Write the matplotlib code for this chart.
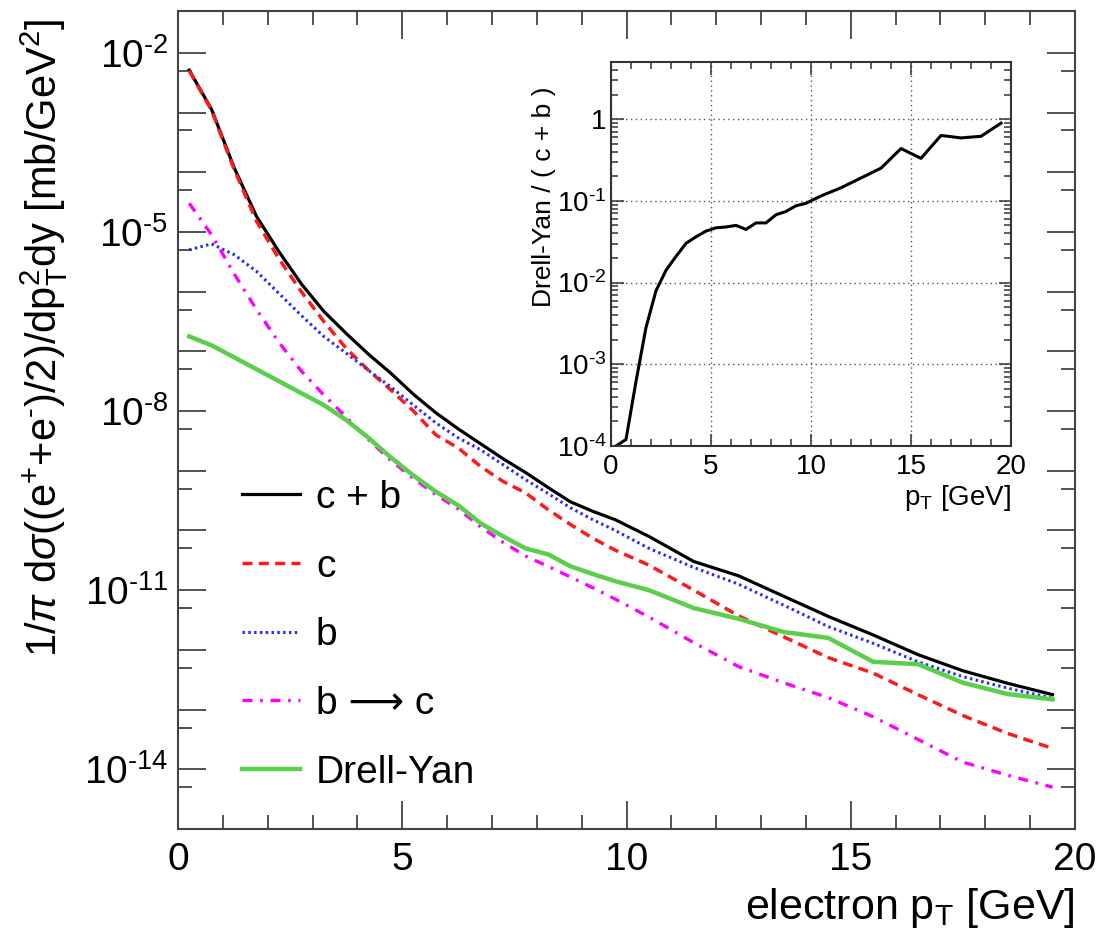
import numpy as np
import matplotlib
matplotlib.use("Agg")
import matplotlib.pyplot as plt
from matplotlib.ticker import LogLocator, FuncFormatter, MultipleLocator, NullFormatter

plt.rcParams['font.family'] = ['Liberation Sans', 'DejaVu Sans']
plt.rcParams['mathtext.fontset'] = 'custom'
plt.rcParams['mathtext.rm'] = 'Liberation Sans'
plt.rcParams['mathtext.it'] = 'Liberation Sans:italic'
plt.rcParams['mathtext.sf'] = 'Liberation Sans'

# electron pT bin centres [GeV]
pt = [0.25, 0.75, 1.25, 1.75, 2.25, 2.75, 3.25, 3.75, 4.25, 4.75,
      5.25, 5.75, 6.25, 6.75, 7.25, 7.75, 8.25, 8.75, 9.25, 9.75,
      10.5, 11.5, 12.5, 13.5, 14.5, 15.5, 16.5, 17.5, 18.5, 19.5]

# log10 of cross sections
log_cb = [-2.29, -2.95, -3.92, -4.74, -5.33, -5.87, -6.33, -6.70, -7.05, -7.37,
          -7.72, -8.03, -8.30, -8.55, -8.80, -9.03, -9.28, -9.52, -9.68, -9.82,
          -10.10, -10.52, -10.76, -11.10, -11.44, -11.75, -12.08, -12.35, -12.56, -12.75]
log_c = [-2.30, -2.97, -3.95, -4.82, -5.45, -6.00, -6.50, -6.95, -7.32, -7.65,
         -8.00, -8.40, -8.62, -8.93, -9.18, -9.37, -9.65, -9.90, -10.13, -10.33,
         -10.58, -11.00, -11.43, -11.78, -12.13, -12.39, -12.75, -13.10, -13.40, -13.65]
log_b = [-5.30, -5.20, -5.38, -5.66, -6.03, -6.40, -6.75, -7.03, -7.32, -7.60,
         -7.90, -8.20, -8.45, -8.65, -8.90, -9.15, -9.38, -9.62, -9.82, -10.00,
         -10.30, -10.62, -10.90, -11.25, -11.61, -11.89, -12.20, -12.45, -12.64, -12.81]
log_bc = [-4.52, -5.05, -5.70, -6.30, -6.85, -7.33, -7.73, -8.10, -8.48, -8.83,
          -9.13, -9.40, -9.64, -9.94, -10.20, -10.43, -10.60, -10.78, -10.96, -11.15,
          -11.45, -11.88, -12.28, -12.55, -12.80, -13.12, -13.50, -13.88, -14.10, -14.30]
log_dy = [-6.75, -6.90, -7.10, -7.30, -7.50, -7.70, -7.90, -8.15, -8.45, -8.78,
          -9.08, -9.35, -9.58, -9.88, -10.10, -10.30, -10.40, -10.60, -10.73, -10.85,
          -11.00, -11.30, -11.48, -11.70, -11.80, -12.20, -12.24, -12.55, -12.74, -12.83]

# inset: Drell-Yan / (c+b), log10
log_ratio = [-4.00, -3.92, -3.21, -2.55, -2.10, -1.85, -1.68, -1.52, -1.44, -1.37,
             -1.33, -1.32, -1.30, -1.35, -1.27, -1.27, -1.17, -1.13, -1.06, -1.03,
             -0.94, -0.84, -0.72, -0.60, -0.36, -0.48, -0.20, -0.23, -0.21, -0.05]

labels = ['c + b', 'c', 'b', 'b \u27f6 c', 'Drell-Yan']

HY = '\u2010'  # short hyphen used as minus sign, like the original

W, H = 1104, 947
fig = plt.figure(figsize=(W / 100, H / 100), dpi=100)

# main axes
ax = fig.add_axes([178 / W, 1 - 829 / H, (1075 - 178) / W, (829 - 11) / H])
x = np.array(pt)
ax.plot(x, 10 ** np.array(log_cb), color='black', lw=2.3, label=labels[0])
ax.plot(x, 10 ** np.array(log_c), color='#ff1a1a', lw=2.5, ls=(0, (2.9, 1.8)), label=labels[1])
ax.plot(x, 10 ** np.array(log_b), color='#2a2aff', lw=2.2, ls=(0, (0.8, 1.1)), label=labels[2])
ax.plot(x, 10 ** np.array(log_bc), color='#ff00ff', lw=2.4, ls=(0, (3.0, 2.3, 0.8, 2.3)), label=labels[3])
ax.plot(x, 10 ** np.array(log_dy), color='#5acf4c', lw=3.2, label=labels[4])

ax.set_yscale('log')
ax.set_xlim(0, 20)
ax.set_ylim(1e-15, 10 ** -1.3)
ax.xaxis.set_major_locator(MultipleLocator(5))
ax.xaxis.set_minor_locator(MultipleLocator(1))
ax.yaxis.set_major_locator(LogLocator(base=10, subs=[1.0], numticks=30))
ax.yaxis.set_minor_locator(LogLocator(base=10, subs=[5.0], numticks=30))
ax.yaxis.set_minor_formatter(NullFormatter())


def main_fmt(v, pos):
    e = int(round(np.log10(v)))
    if e in (-2, -5, -8, -11, -14):
        return r'10$^{%s%d}$' % (HY, -e)
    return ''


ax.yaxis.set_major_formatter(FuncFormatter(main_fmt))
ax.tick_params(which='both', direction='in', top=True, right=True, labelsize=28, color='#444444')
ax.tick_params(which='major', length=20, width=1.3)
ax.tick_params(which='minor', length=10, width=1.3)
ax.tick_params(axis='x', pad=9)
ax.tick_params(axis='y', pad=7)
for s in ax.spines.values():
    s.set_linewidth(1.5)
    s.set_color('#444444')

ax.set_ylabel(r'1/$\pi$ d$\sigma$((e$^{+}$+e$^{%s}$)/2)/dp$_{\mathrm{T}}^{2}$dy [mb/GeV$^{2}$]' % HY,
              fontsize=30)
ax.yaxis.set_label_coords(-0.12, 0.60)
ax.set_xlabel(r'electron p$_{\mathrm{T}}$ [GeV]', fontsize=31, ha='right', va='center')
ax.xaxis.set_label_coords(1.0, -0.097)

ax.legend(loc='upper left', bbox_to_anchor=((242 - 178) / 897, (829 - 480) / 818),
          frameon=False, fontsize=28, handlelength=1.5, handletextpad=0.4,
          labelspacing=0.84, borderpad=0, borderaxespad=0)

# inset
ins = fig.add_axes([611 / W, 1 - 446 / H, 400 / W, 384 / H])
ins.plot(x, 10 ** np.array(log_ratio), color='black', lw=2.2)
ins.set_yscale('log')
ins.set_xlim(0, 20)
ins.set_ylim(1e-4, 5)
ins.xaxis.set_major_locator(MultipleLocator(5))
ins.xaxis.set_minor_locator(MultipleLocator(1))
ins.yaxis.set_major_locator(LogLocator(base=10, subs=[1.0], numticks=20))
ins.yaxis.set_minor_locator(LogLocator(base=10, subs=np.arange(2, 10), numticks=20))
ins.yaxis.set_minor_formatter(NullFormatter())


def ins_fmt(v, pos):
    e = int(round(np.log10(v)))
    if e == 0:
        return '1'
    return r'10$^{%s%d}$' % (HY, -e)


ins.yaxis.set_major_formatter(FuncFormatter(ins_fmt))
ins.grid(True, which='major', color='#555555', lw=1.0, ls=(0, (1, 2.5)))
ins.tick_params(which='both', direction='in', top=True, right=True, labelsize=20, color='#333333')
ins.tick_params(which='major', length=9, width=1.1)
ins.tick_params(which='minor', length=5, width=1.1)
ins.tick_params(axis='x', pad=6)
ins.tick_params(axis='y', pad=3)
for s in ins.spines.values():
    s.set_linewidth(1.5)
    s.set_color('#333333')
ins.set_ylabel('Drell-Yan / ( c + b )', fontsize=19)
ins.yaxis.set_label_coords(-0.1375, 0.65)
ins.set_xlabel(r'p$_{\mathrm{T}}$ [GeV]', fontsize=20, ha='right', va='center')
ins.xaxis.set_label_coords(1.0, -0.135)

fig.savefig('out.png', dpi=100)
